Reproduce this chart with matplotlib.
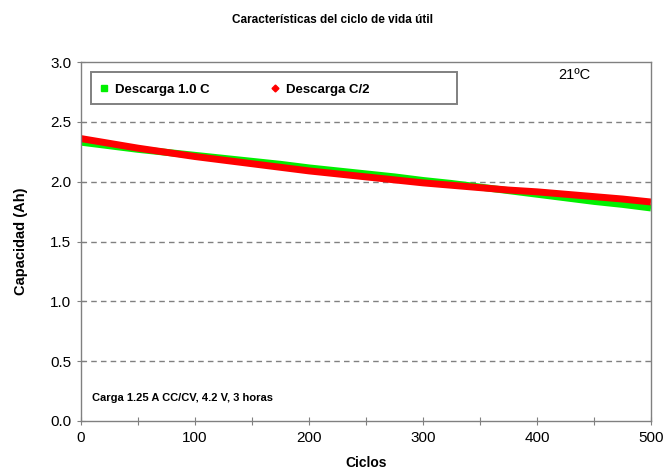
import matplotlib
matplotlib.use('Agg')
import matplotlib.pyplot as plt
from matplotlib.lines import Line2D
from matplotlib.patches import Rectangle

# data (every 25 cycles)
cycles = [0, 25, 50, 75, 100, 125, 150, 175, 200, 225, 250,
          275, 300, 325, 350, 375, 400, 425, 450, 475, 500]
cap_1c = [2.33, 2.30, 2.27, 2.245, 2.22, 2.195, 2.17, 2.145, 2.115, 2.09, 2.065,
          2.04, 2.01, 1.985, 1.955, 1.925, 1.895, 1.865, 1.835, 1.81, 1.78]
cap_c2 = [2.36, 2.32, 2.28, 2.245, 2.21, 2.18, 2.15, 2.12, 2.09, 2.065, 2.04,
          2.015, 1.99, 1.97, 1.95, 1.93, 1.915, 1.895, 1.875, 1.855, 1.83]

x_ticks = [0, 50, 100, 150, 200, 250, 300, 350, 400, 450, 500]
x_labels = ['0', '', '100', '', '200', '', '300', '', '400', '', '500']
y_ticks = [0.0, 0.5, 1.0, 1.5, 2.0, 2.5, 3.0]

GREEN = '#00f000'
RED = '#ff0000'
FRAME = '#808080'
FONT = ['Liberation Sans Narrow', 'Liberation Sans', 'DejaVu Sans']

plt.rcParams['font.family'] = FONT

fig = plt.figure(figsize=(6.65, 4.72), dpi=100, facecolor='white')
ax = fig.add_axes([81 / 665, 51 / 472, 570 / 665, 359 / 472])

ax.plot(cycles, cap_1c, color=GREEN, linewidth=5, solid_capstyle='butt')
ax.plot(cycles, cap_c2, color=RED, linewidth=5, solid_capstyle='butt')

ax.set_xlim(0, 500)
ax.set_ylim(0, 3.0)
ax.set_xticks(x_ticks)
ax.set_xticklabels(x_labels)
ax.set_yticks(y_ticks)
ax.set_yticklabels([f'{v:.1f}' for v in y_ticks])
ax.tick_params(direction='inout', length=6, width=0.8, color=FRAME,
               labelsize=11, labelcolor='black', pad=4)

for y in y_ticks[1:-1]:
    ax.axhline(y, color=FRAME, linewidth=1, linestyle=(0, (4, 3)), zorder=0)
for s in ax.spines.values():
    s.set_color(FRAME); s.set_linewidth(1)

ax.set_xlabel('Ciclos', fontsize=10, fontweight='bold', labelpad=8)
ax.set_ylabel('Capacidad (Ah)', fontsize=10.5, fontweight='bold', labelpad=16)
fig.text(0.5, 0.957, 'Características del ciclo de vida útil',
         ha='center', va='center', fontsize=8.5, fontweight='bold')

# legend box drawn separately so it can be wider than its entries
ax.add_patch(Rectangle((10 / 570, 1 - 42 / 359), 366 / 570, 32 / 359,
                       transform=ax.transAxes, facecolor='white',
                       edgecolor=FRAME, linewidth=1.4, zorder=4))
handles = [
    Line2D([], [], linestyle='none', marker='s', markersize=4,
           color=GREEN, label='Descarga 1.0 C'),
    Line2D([], [], linestyle='none', marker='D', markersize=3.5,
           color=RED, label='Descarga C/2'),
]
leg = ax.legend(handles=handles, loc='center left', ncol=2,
                bbox_to_anchor=(18 / 570, 1 - 28 / 359),
                frameon=False,
                prop={'family': FONT, 'weight': 'bold', 'size': 9.5},
                handlelength=0.8, handletextpad=0.4, columnspacing=4.6,
                borderpad=0, borderaxespad=0)
leg.set_zorder(5)

ax.text(0.837, 0.983, '21ºC', transform=ax.transAxes, ha='left', va='top',
        fontsize=10.5)
ax.text(0.02, 0.065, 'Carga 1.25 A CC/CV, 4.2 V, 3 horas',
        transform=ax.transAxes, ha='left', va='center',
        fontsize=8, fontweight='bold')

fig.savefig('out.png', dpi=100, facecolor='white')
